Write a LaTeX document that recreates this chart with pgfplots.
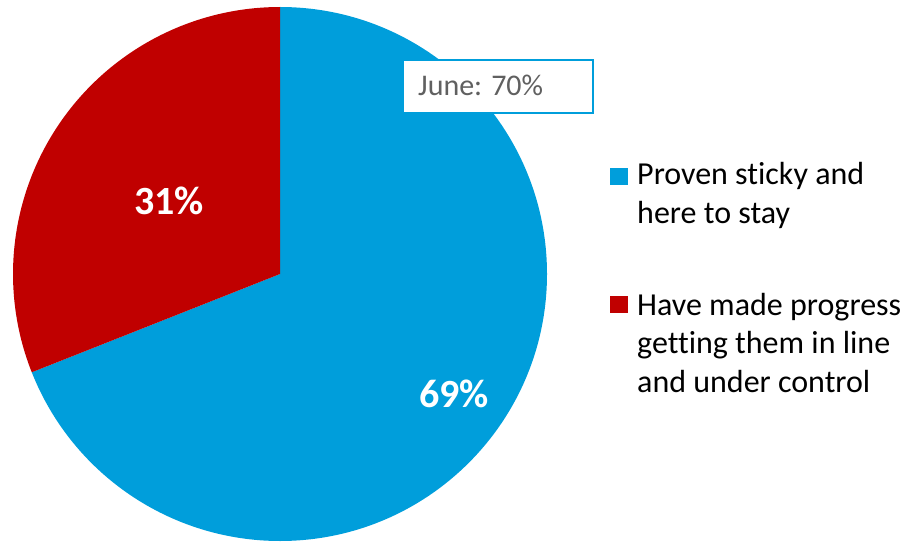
\documentclass[border=0pt]{standalone}
\usepackage{pgfplots}
\pgfplotsset{compat=1.18}
\usepackage{fontspec}
\setmainfont{Carlito}[Ligatures=NoCommon]
\definecolor{pieblue}{RGB}{0,158,219}
\definecolor{piered}{RGB}{192,0,0}
\definecolor{boxgray}{RGB}{96,96,96}
% slice values (percent)
\def\valA{69}% Proven sticky and here to stay
\def\valB{31}% Have made progress ...
\pgfmathsetmacro{\angA}{90-3.6*\valA}
\pgfmathsetmacro{\angB}{90+3.6*\valB}
\def\R{267pt}
\begin{document}
\begin{tikzpicture}
\begin{axis}[
  x=1pt, y=1pt,
  xmin=0, xmax=905, ymin=0, ymax=542,
  hide axis, clip=false,
]
% slices
\fill[pieblue] (axis cs:280,268) -- (axis cs:280,535) arc[start angle=90, end angle=\angA, radius=\R] -- cycle;
\fill[piered] (axis cs:280,268) -- (axis cs:280,535) arc[start angle=90, end angle=\angB, radius=\R] -- cycle;
% labels
\node[text=white, font=\fontsize{40}{44}\selectfont\bfseries] at (axis cs:169,341) {31\%};
\node[text=white, font=\fontsize{40}{44}\selectfont\bfseries] at (axis cs:454,148) {69\%};
% callout box
\draw[pieblue, line width=2pt, fill=white] (axis cs:403,482) rectangle (axis cs:593,429);
\node[anchor=base west, inner sep=0pt, text=boxgray, font=\fontsize{30}{36}\selectfont] at (axis cs:418,446) {June: 70\%};
% legend
\fill[pieblue] (axis cs:610,374) rectangle (axis cs:628,357);
\node[anchor=base west, inner sep=0pt, font=\fontsize{32}{38}\selectfont] at (axis cs:637,357) {Proven sticky and};
\node[anchor=base west, inner sep=0pt, font=\fontsize{32}{38}\selectfont] at (axis cs:637,319) {here to stay};
\fill[piered] (axis cs:610,246) rectangle (axis cs:628,229);
\node[anchor=base west, inner sep=0pt, font=\fontsize{32}{38}\selectfont] at (axis cs:637,227) {Have made progress};
\node[anchor=base west, inner sep=0pt, font=\fontsize{32}{38}\selectfont] at (axis cs:637,189) {getting them in line};
\node[anchor=base west, inner sep=0pt, font=\fontsize{32}{38}\selectfont] at (axis cs:637,150) {and under control};
\end{axis}
\pgfresetboundingbox
\path[use as bounding box] (current axis.south west) rectangle (current axis.north east);
\end{tikzpicture}
\end{document}
